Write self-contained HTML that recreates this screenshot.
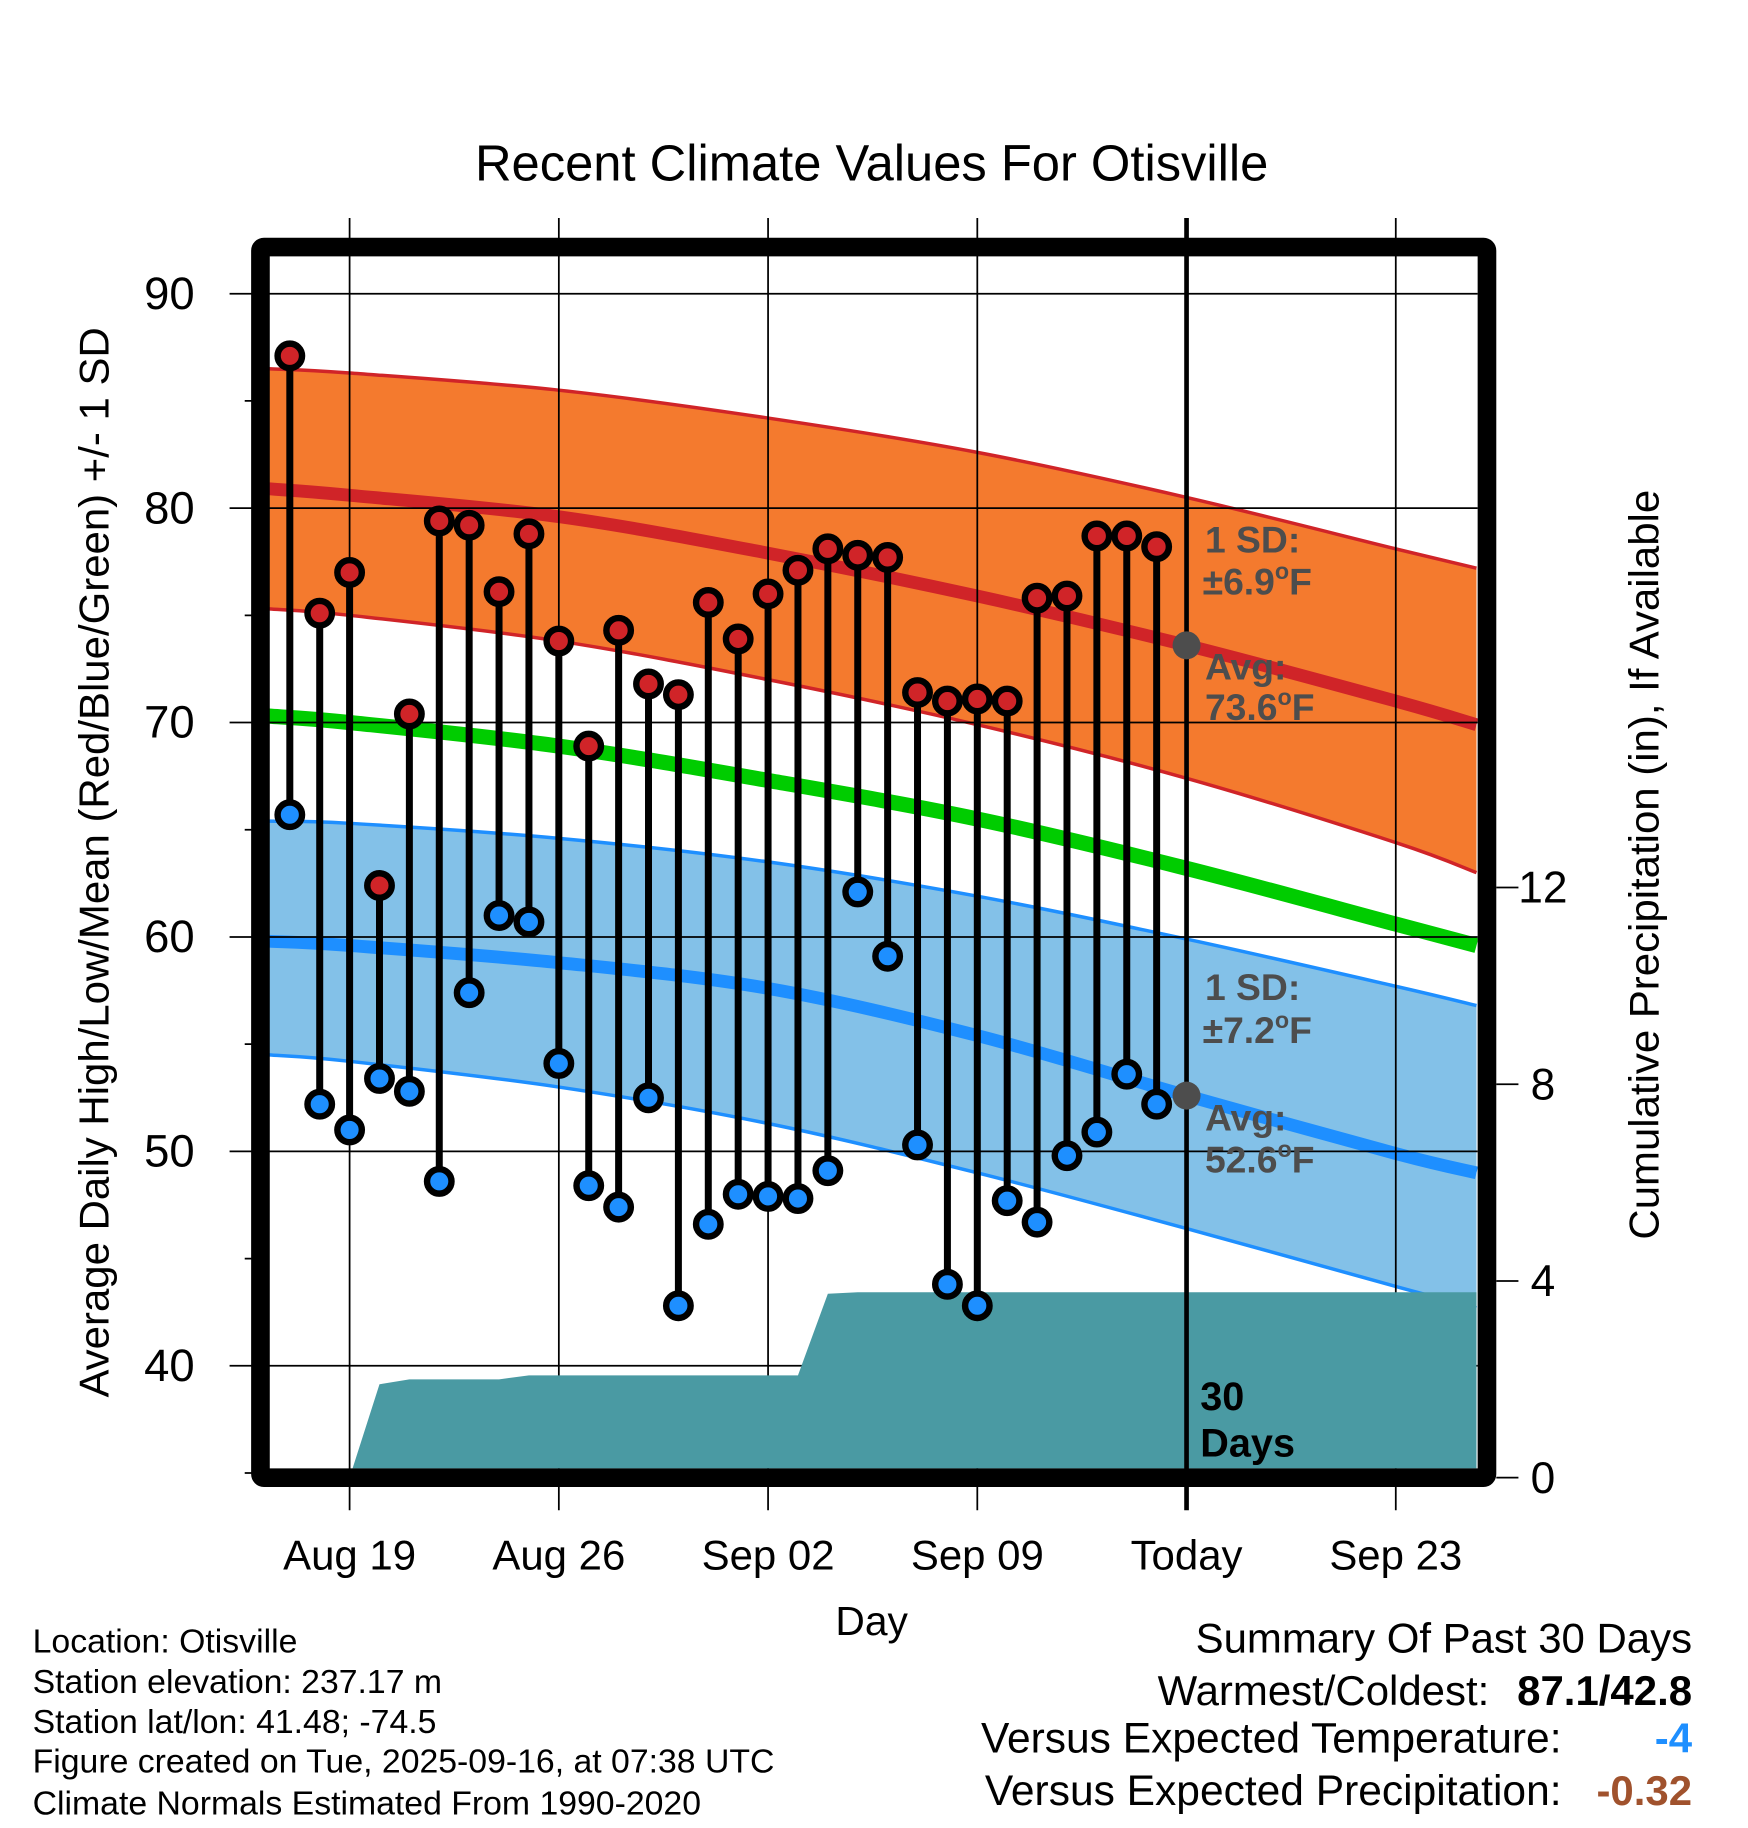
<!DOCTYPE html>
<html><head><meta charset="utf-8">
<style>
html,body{margin:0;padding:0;background:#fff;}
svg{display:block;font-family:"Liberation Sans",Arial,sans-serif;}
</style></head>
<body>
<svg id="chart" xmlns="http://www.w3.org/2000/svg" width="1748" height="1828" viewBox="0 0 1500 1568.6">
<rect x="0" y="0" width="1500" height="1568.6" fill="#fff"/>
<g id="plot"></g>
</svg>
<script>
// ---- data ----
const dayLabels = ["Aug 19","Aug 26","Sep 02","Sep 09","Today","Sep 23"];
const dayLabelOffsets = [0,7,14,21,28,35]; // days since Aug 19
const obsOffsets = [-2,-1,0,1,2,3,4,5,6,7,8,9,10,11,12,13,14,15,16,17,18,19,20,21,22,23,24,25,26,27];
const highs = [87.1,75.1,77.0,62.4,70.4,79.4,79.2,76.1,78.8,73.8,68.9,74.3,71.8,71.3,75.6,73.9,76.0,77.1,78.1,77.8,77.7,71.4,71.0,71.1,71.0,75.8,75.9,78.7,78.7,78.2];
const lows  = [65.7,52.2,51.0,53.4,52.8,48.6,57.4,61.0,60.7,54.1,48.4,47.4,52.5,42.8,46.6,48.0,47.9,47.8,49.1,62.1,59.1,50.3,43.8,42.8,47.7,46.7,49.8,50.9,53.6,52.2];
const normOffsets = [-2.7,0,7,14,21,28,35,37.7];
const normHigh    = [80.9,80.6,79.6,77.9,75.9,73.6,71.0,69.9];
const normHighUp  = [86.5,86.3,85.5,84.2,82.6,80.5,78.1,77.2];
const normHighLo  = [75.3,75.0,73.8,72.0,69.9,67.4,64.4,63.0];
const normMean    = [70.3,70.0,68.9,67.3,65.5,63.2,60.6,59.6];
const normLow     = [59.8,59.6,58.8,57.6,55.4,52.6,49.9,49.0];
const normLowUp   = [65.4,65.3,64.6,63.5,61.9,59.9,57.7,56.8];
const normLowLo   = [54.5,54.2,53.0,51.3,49.0,46.4,43.7,42.7];
const precipOffsets = [0,1,2,3,4,5,6,7,8,9,10,11,12,13,14,15,16,17,18,19,20,21,22,23,24,25,26,27,28,37.7];
const precip = [0,1.9,2.0,2.0,2.0,2.0,2.08,2.08,2.08,2.08,2.08,2.08,2.08,2.08,2.08,2.08,3.74,3.77,3.77,3.77,3.77,3.77,3.77,3.77,3.77,3.77,3.77,3.77,3.77,3.77];
const tempTicks = [40,50,60,70,80,90];
const precipTicks = [0,4,8,12];

// ---- axes ----
const X0=300, DX=25.65;
const xs = d => X0 + d*DX;
const yT = t => 252 + (90-t)*18.4;
const yP = p => 1268 - p*42.2;
const L=231,R=1268,T=220,B=1260;

const NS="http://www.w3.org/2000/svg";
const plot=document.getElementById('plot');
function mk(tag,attrs,parent){const e=document.createElementNS(NS,tag);for(const k in attrs)e.setAttribute(k,attrs[k]);(parent||plot).appendChild(e);return e;}
function txt(s,attrs,parent){const e=mk('text',attrs,parent);e.textContent=s;return e;}
function smooth(pts){
  let d='M'+pts[0][0]+','+pts[0][1];
  for(let i=0;i<pts.length-1;i++){
    const p0=pts[i-1]||pts[i],p1=pts[i],p2=pts[i+1],p3=pts[i+2]||p2;
    const c1=[p1[0]+(p2[0]-p0[0])/6,p1[1]+(p2[1]-p0[1])/6];
    const c2=[p2[0]-(p3[0]-p1[0])/6,p2[1]-(p3[1]-p1[1])/6];
    d+=' C'+c1+' '+c2+' '+p2;
  }
  return d;
}
const clip=mk('clipPath',{id:'pc'});mk('rect',{x:L,y:T,width:R-L,height:B-T},clip);
const g=mk('g',{'clip-path':'url(#pc)'});
(function(){
  const P=g;
  function pts(a){return normOffsets.map((o,i)=>[xs(o),yT(a[i])]);}
  function band2(up,lo,fill,name){
    const top=smooth(pts(up));
    const bot=smooth(pts(lo).reverse()).replace(/^M/,' L');
    const p=mk('path',{d:top+bot+'Z',fill:fill},P);
    
    
  }
  function line2(arr,col,w,name){
    const p=mk('path',{d:smooth(pts(arr)),fill:'none',stroke:col,'stroke-width':w},P);
    
    
  }
  band2(normHighUp,normHighLo,'#f47a2e','high-sd-band');
  band2(normLowUp,normLowLo,'#83c1e8','low-sd-band');
  line2(normHighUp,'#d02428',3,'high-upper-line');
  line2(normHighLo,'#d02428',3,'high-lower-line');
  line2(normLowUp,'#1e8fff',3,'low-upper-line');
  line2(normLowLo,'#1e8fff',3,'low-lower-line');
  line2(normHigh,'#d02428',11,'normal-high-line');
  line2(normMean,'#00cc00',13,'normal-mean-line');
  line2(normLow,'#1e8fff',11,'normal-low-line');
})();
// gridlines
tempTicks.forEach(t=>{const l=mk('line',{x1:197,x2:R,y1:yT(t),y2:yT(t),stroke:'#000','stroke-width':1.5});
  
  });
dayLabelOffsets.forEach((o,i)=>{ if(i===4) return; const l=mk('line',{x1:xs(o),x2:xs(o),y1:187,y2:1296,stroke:'#000','stroke-width':1.5});
  
  });
// precip
(function(){
  let d='M'+xs(precipOffsets[0])+','+yP(0);
  precipOffsets.forEach((o,i)=>{d+=' L'+xs(o)+','+yP(precip[i]);});
  d+=' L'+xs(precipOffsets[precipOffsets.length-1])+','+yP(0)+'Z';
  const p=mk('path',{d:d,fill:'#4a9aa3','clip-path':'url(#pc)'});
  
  
})();
// minor ticks
[35,45,55,65,75,85].forEach(t=>{mk('line',{x1:210,x2:231,y1:yT(t),y2:yT(t),stroke:'#000','stroke-width':1.5});});
// today line
const tl=mk('line',{x1:xs(28),x2:xs(28),y1:187,y2:1296,stroke:'#000','stroke-width':4});


// stems and points
obsOffsets.forEach((o,i)=>{
  const x=xs(o);
  const s=mk('line',{x1:x,x2:x,y1:yT(highs[i]),y2:yT(lows[i]),stroke:'#000','stroke-width':6});
  
  
  const h=mk('circle',{cx:x,cy:yT(highs[i]),r:10.5,fill:'#d02428',stroke:'#000','stroke-width':5.5});
  
  
  const lw=mk('circle',{cx:x,cy:yT(lows[i]),r:10.5,fill:'#1e8fff',stroke:'#000','stroke-width':5.5});
  
  
});
// avg dots
[[normHigh,'high-avg-dot'],[normLow,'low-avg-dot']].forEach(([a,n])=>{
  const c=mk('circle',{cx:xs(28),cy:yT(a[5]),r:12,fill:'#4d4d4d'});
  
  
});
// frame
const fr=mk('rect',{x:223.5,y:212,width:1052.5,height:1056,fill:'none',stroke:'#000','stroke-width':16,rx:3});


// right ticks
precipTicks.forEach(p=>{
  mk('line',{x1:1284,x2:1303,y1:yP(p),y2:yP(p),stroke:'#000','stroke-width':1.5});
  const t=txt(String(p),{x:1324,y:yP(p)+13,'font-size':38,'text-anchor':'middle'});
  
  
});
tempTicks.forEach(v=>{
  const t=txt(String(v),{x:167,y:yT(v)+13,'font-size':39,'text-anchor':'end'});
  
  
});
dayLabels.forEach((s,i)=>{
  const t=txt(s,{x:xs(dayLabelOffsets[i]),y:1347,'font-size':36,'text-anchor':'middle'});
  
  
});
</script>
<script>
// static text annotations
(function(){
const NS="http://www.w3.org/2000/svg";const svg=document.getElementById('chart');
function T(s,a,name,bold,fill){const e=document.createElementNS(NS,'text');for(const k in a)e.setAttribute(k,a[k]);if(bold)e.setAttribute('font-weight','bold');if(fill)e.setAttribute('fill',fill);e.innerHTML=s;


svg.appendChild(e);return e;}
T('Recent Climate Values For Otisville',{x:748,y:155,'font-size':43.5,'text-anchor':'middle'},'chart-title');
T('Day',{x:748,y:1403,'font-size':35,'text-anchor':'middle'},'x-axis-title');
T('Average Daily High/Low/Mean (Red/Blue/Green) +/- 1 SD',{x:0,y:0,'font-size':36,'text-anchor':'middle',transform:'translate(93,740) rotate(-90)'},'y-axis-title');
T('Cumulative Precipitation (in), If Available',{x:0,y:0,'font-size':36,'text-anchor':'middle',transform:'translate(1423,742) rotate(-90)'},'y2-axis-title');
const gc='#4d4d4d';
T('1 SD:',{x:1034,y:474,'font-size':32},'high-sd-label',true,gc);
T('±6.9<tspan font-size="20" dy="-13">o</tspan><tspan dy="13">F</tspan>',{x:1032,y:510,'font-size':32},'high-sd-value',true,gc);
T('Avg:',{x:1034,y:583,'font-size':32},'high-avg-label',true,gc);
T('73.6<tspan font-size="20" dy="-13">o</tspan><tspan dy="13">F</tspan>',{x:1034,y:618,'font-size':32},'high-avg-value',true,gc);
T('1 SD:',{x:1034,y:858,'font-size':32},'low-sd-label',true,gc);
T('±7.2<tspan font-size="20" dy="-13">o</tspan><tspan dy="13">F</tspan>',{x:1032,y:895,'font-size':32},'low-sd-value',true,gc);
T('Avg:',{x:1034,y:970,'font-size':32},'low-avg-label',true,gc);
T('52.6<tspan font-size="20" dy="-13">o</tspan><tspan dy="13">F</tspan>',{x:1034,y:1006,'font-size':32},'low-avg-value',true,gc);
T('30',{x:1030,y:1210,'font-size':34},'days-count',true,'#000');
T('Days',{x:1030,y:1250,'font-size':34},'days-label',true,'#000');
const foot=['Location: Otisville','Station elevation: 237.17 m','Station lat/lon: 41.48; -74.5','Figure created on Tue, 2025-09-16, at 07:38 UTC','Climate Normals Estimated From 1990-2020'];
const fy=[1418,1453,1487,1521,1557];
foot.forEach((s,i)=>T(s,{x:28,y:fy[i],'font-size':29},'footer-line-'+i));
T('Summary Of Past 30 Days',{x:1452,y:1418,'font-size':36,'text-anchor':'end'},'summary-title');
T('Warmest/Coldest:',{x:1278,y:1463,'font-size':36,'text-anchor':'end'},'warmest-coldest-label');
T('87.1/42.8',{x:1452,y:1463,'font-size':36,'text-anchor':'end'},'warmest-coldest-value',true,'#000');
T('Versus Expected Temperature:',{x:1340,y:1504,'font-size':36.5,'text-anchor':'end'},'temp-anomaly-label');
T('-4',{x:1452,y:1504,'font-size':36,'text-anchor':'end'},'temp-anomaly-value',true,'#1e8fff');
T('Versus Expected Precipitation:',{x:1340,y:1549,'font-size':36.5,'text-anchor':'end'},'precip-anomaly-label');
T('-0.32',{x:1452,y:1549,'font-size':36,'text-anchor':'end'},'precip-anomaly-value',true,'#a0522d');
})();
</script>
</body></html>
